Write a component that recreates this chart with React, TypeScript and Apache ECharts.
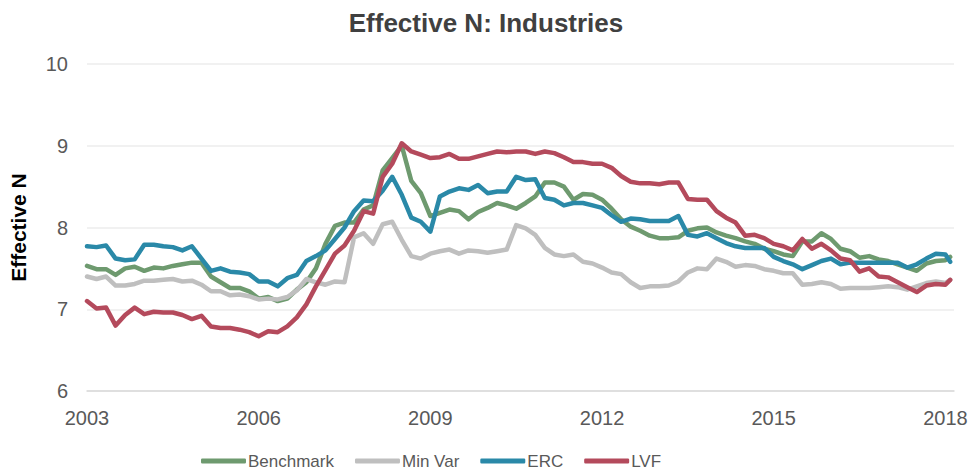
import React, { useEffect, useRef } from "react";
import * as echarts from "echarts";

const startYear = 2003;
const stepMonths = 2;
// bimonthly observations from 2003-01 to 2018-01, plus 2018-02
const dates: string[] = (() => {
  const out: string[] = [];
  for (let i = 0; i < 91; i++) {
    const m = i * stepMonths;
    const y = startYear + Math.floor(m / 12);
    const mm = (m % 12) + 1;
    out.push(`${y}-${String(mm).padStart(2, "0")}`);
  }
  out.push("2018-02");
  return out;
})();

const benchmark = [
  7.53, 7.49, 7.49, 7.42, 7.50, 7.52, 7.47, 7.51, 7.50, 7.53, 7.55, 7.57,
  7.57, 7.40, 7.33, 7.26, 7.26, 7.22, 7.13, 7.15, 7.10, 7.13, 7.24, 7.33,
  7.50, 7.80, 8.02, 8.06, 8.06, 8.22, 8.27, 8.70, 8.85, 9.00, 8.57, 8.42,
  8.14, 8.18, 8.22, 8.20, 8.10, 8.19, 8.24, 8.30, 8.27, 8.23, 8.30, 8.38,
  8.55, 8.55, 8.50, 8.34, 8.41, 8.40, 8.34, 8.23, 8.10, 8.01, 7.96, 7.90,
  7.87, 7.87, 7.88, 7.96, 7.99, 8.00, 7.94, 7.90, 7.87, 7.83, 7.80, 7.74,
  7.71, 7.67, 7.65, 7.83, 7.83, 7.93, 7.86, 7.74, 7.71, 7.63, 7.65, 7.61,
  7.59, 7.55, 7.51, 7.47, 7.56, 7.59, 7.60, 7.64,
];

const minVar = [
  7.40, 7.37, 7.40, 7.29, 7.29, 7.31, 7.35, 7.35, 7.36, 7.37, 7.34, 7.35,
  7.30, 7.22, 7.22, 7.17, 7.18, 7.16, 7.12, 7.13, 7.12, 7.15, 7.23, 7.37,
  7.33, 7.30, 7.34, 7.33, 7.88, 7.93, 7.80, 8.04, 8.07, 7.85, 7.65, 7.62,
  7.68, 7.71, 7.73, 7.68, 7.72, 7.71, 7.69, 7.71, 7.73, 8.03, 7.99, 7.91,
  7.75, 7.67, 7.65, 7.67, 7.58, 7.56, 7.51, 7.45, 7.43, 7.33, 7.26, 7.28,
  7.28, 7.29, 7.34, 7.45, 7.50, 7.49, 7.62, 7.58, 7.52, 7.54, 7.53, 7.49,
  7.47, 7.44, 7.44, 7.30, 7.31, 7.33, 7.31, 7.25, 7.26, 7.26, 7.26, 7.27,
  7.28, 7.27, 7.24, 7.28, 7.32, 7.34, 7.32, 7.36,
];

const erc = [
  7.77, 7.76, 7.78, 7.62, 7.60, 7.61, 7.79, 7.79, 7.77, 7.76, 7.72, 7.77,
  7.62, 7.47, 7.50, 7.46, 7.45, 7.43, 7.34, 7.34, 7.28, 7.38, 7.42, 7.59,
  7.65, 7.72, 7.86, 8.00, 8.20, 8.33, 8.32, 8.45, 8.62, 8.40, 8.12, 8.07,
  7.95, 8.38, 8.44, 8.48, 8.46, 8.52, 8.42, 8.44, 8.44, 8.62, 8.58, 8.59,
  8.36, 8.34, 8.27, 8.30, 8.30, 8.27, 8.24, 8.15, 8.07, 8.11, 8.10, 8.08,
  8.08, 8.08, 8.14, 7.91, 7.89, 7.93, 7.87, 7.81, 7.77, 7.75, 7.75, 7.75,
  7.64, 7.59, 7.55, 7.49, 7.54, 7.59, 7.62, 7.55, 7.57, 7.57, 7.57, 7.57,
  7.57, 7.57, 7.51, 7.55, 7.62, 7.68, 7.67, 7.58,
];

const lvf = [
  7.10, 7.01, 7.02, 6.80, 6.93, 7.02, 6.94, 6.97, 6.96, 6.96, 6.93, 6.88,
  6.92, 6.79, 6.77, 6.77, 6.75, 6.72, 6.67, 6.73, 6.72, 6.79, 6.90, 7.06,
  7.28, 7.48, 7.68, 7.78, 7.96, 8.20, 8.17, 8.62, 8.78, 9.03, 8.93, 8.89,
  8.85, 8.86, 8.90, 8.84, 8.84, 8.87, 8.90, 8.93, 8.92, 8.93, 8.93, 8.90,
  8.93, 8.91, 8.86, 8.80, 8.80, 8.78, 8.78, 8.73, 8.63, 8.56, 8.54, 8.54,
  8.53, 8.55, 8.55, 8.35, 8.34, 8.34, 8.20, 8.12, 8.06, 7.90, 7.91, 7.87,
  7.80, 7.77, 7.72, 7.86, 7.74, 7.80, 7.72, 7.62, 7.60, 7.46, 7.50, 7.40,
  7.39, 7.33, 7.27, 7.21, 7.29, 7.31, 7.30, 7.36,
];

const seriesNames = ["Benchmark", "Min Var", "ERC", "LVF"];
const seriesColors = ["#6E9A6F", "#BFBFBF", "#2A89A8", "#B44A5C"];
const yTicks = [6, 7, 8, 9, 10];
const xTickYears = [2003, 2006, 2009, 2012, 2015, 2018];

function toYear(d: string): number {
  const [y, m] = d.split("-").map(Number);
  return y + (m - 1) / 12;
}

export default function App() {
  const ref = useRef<HTMLDivElement>(null);
  useEffect(() => {
    if (!ref.current) return;
    const chart = echarts.init(ref.current, undefined, { renderer: "svg" });
    const xs = dates.map(toYear);
    const all = [benchmark, minVar, erc, lvf];
    const font = "'Liberation Sans', Arial, Helvetica, sans-serif";
    chart.setOption({
      animation: false,
      backgroundColor: "#ffffff",
      textStyle: { fontFamily: font },
      title: {
        text: "Effective N: Industries",
        left: "center",
        top: 5,
        textStyle: { fontSize: 26, fontWeight: "bold", color: "#404040", fontFamily: font },
      },
      grid: { left: 83, right: 18, top: 64, bottom: 80, containLabel: false },
      legend: {
        top: 446,
        left: 196,
        icon: "roundRect",
        itemWidth: 45,
        itemHeight: 5,
        itemGap: 21,
        textStyle: {
          fontSize: 17,
          lineHeight: 20,
          color: "#595959",
          fontFamily: font,
          padding: [0, 0, 0, -3],
        },
        data: seriesNames,
      },
      xAxis: {
        type: "value",
        min: 2003,
        max: 2018.15,
        interval: 3,
        axisLine: { show: true, lineStyle: { color: "#D9D9D9", width: 1.5 } },
        axisTick: { show: false },
        splitLine: { show: false },
        axisLabel: {
          fontSize: 20,
          color: "#595959",
          margin: 17,
          showMaxLabel: false,
          formatter: (v: number) => {
            const r = Math.round(v);
            return Math.abs(v - r) < 1e-6 && xTickYears.includes(r) ? String(r) : "";
          },
        },
      },
      yAxis: {
        type: "value",
        min: yTicks[0],
        max: yTicks[yTicks.length - 1],
        interval: 1,
        name: "Effective N",
        nameLocation: "middle",
        nameGap: 58,
        nameRotate: 90,
        nameTextStyle: { fontSize: 21, fontWeight: "bold", color: "#000000", fontFamily: font },
        axisLine: { show: false },
        axisTick: { show: false },
        axisLabel: { fontSize: 20, color: "#595959", margin: 19 },
        splitLine: { show: true, lineStyle: { color: "#EDEDED", width: 1.5 } },
      },
      series: all.map((vals, k) => ({
        name: seriesNames[k],
        type: "line",
        showSymbol: false,
        symbol: "none",
        color: seriesColors[k],
        lineStyle: { width: 4.5, color: seriesColors[k], join: "round", cap: "round" },
        data: vals.map((v, i) => [xs[i], v]),
      })),
    });
    return () => chart.dispose();
  }, []);
  return (
    <div
      ref={ref}
      style={{ position: "absolute", left: 0, top: 0, width: 972, height: 471 }}
    />
  );
}
